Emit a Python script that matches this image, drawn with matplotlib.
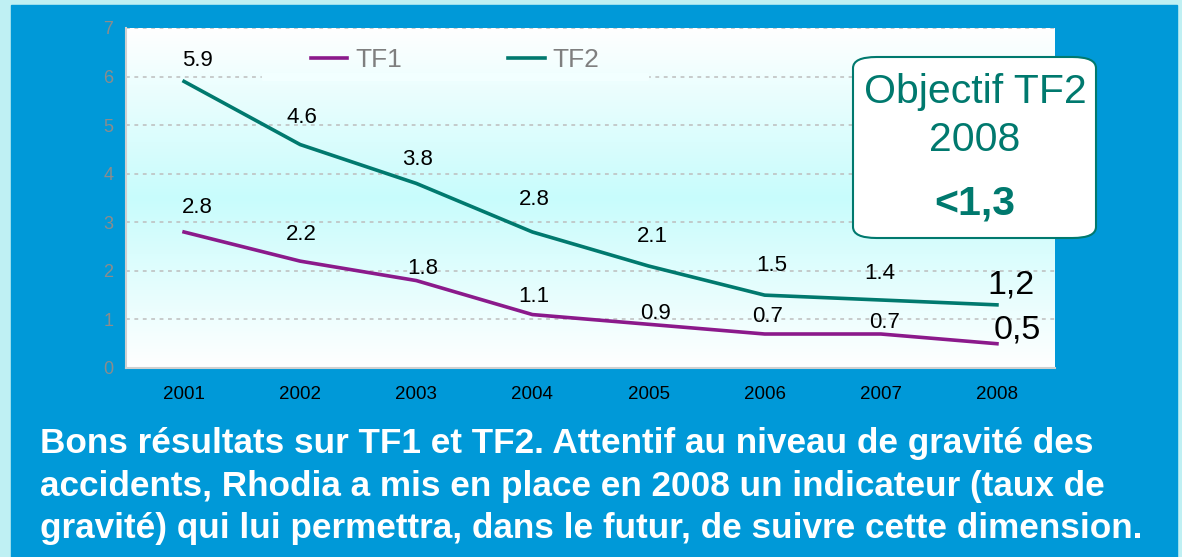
"""Rhodia TF1 / TF2 accident frequency rates, 2001-2008."""

import numpy as np
import matplotlib.pyplot as plt
from matplotlib.colors import LinearSegmentedColormap
from matplotlib.patches import FancyBboxPatch

plt.rcParams['font.family'] = ['Liberation Sans', 'DejaVu Sans']

years = ['2001', '2002', '2003', '2004', '2005', '2006', '2007', '2008']
tf1 = [2.8, 2.2, 1.8, 1.1, 0.9, 0.7, 0.7, 0.5]
tf2 = [5.9, 4.6, 3.8, 2.8, 2.1, 1.5, 1.4, 1.3]
tf1_labels = ['2.8', '2.2', '1.8', '1.1', '0.9', '0.7', '0.7', '0,5']
tf2_labels = ['5.9', '4.6', '3.8', '2.8', '2.1', '1.5', '1.4', '1,2']
goal_lines = ['Objectif TF2', '2008', '<1,3']
comment = ['Bons résultats sur TF1 et TF2. Attentif au niveau de gravité des',
           'accidents, Rhodia a mis en place en 2008 un indicateur (taux de',
           'gravité) qui lui permettra, dans le futur, de suivre cette dimension.']

# label offsets in pixels (dx, dy up), last one is the big manual label
tf1_off = [(13, 25), (1, 27), (6, 12), (1, 18), (7, 11), (3, 18), (4, 12), (-3, 14)]
tf2_off = [(13, 21), (2, 27), (1, 24), (2, 33), (4, 29), (7, 30), (-1, 27), (-10, 20)]

BLUE = '#0099d8'
TEAL = '#00796e'
PURPLE = '#8b1a8b'
px = 0.72  # pixels -> points at dpi 100

fig = plt.figure(figsize=(11.82, 5.57), dpi=100)
fig.patch.set_facecolor('#bff0f3')
fig.add_artist(plt.Rectangle((11 / 1182, 0), 1166 / 1182, 552 / 557,
                             transform=fig.transFigure, color=BLUE, zorder=0))

ax = fig.add_axes([126 / 1182, 1 - 368 / 557, 929 / 1182, 340 / 557])
ax.set_facecolor('white')

# vertical gradient white -> cyan -> white
cmap = LinearSegmentedColormap.from_list(
    'bg', [(0, 'white'), (0.5, '#c8fcfc'), (1, 'white')])
grad = np.linspace(0, 1, 256).reshape(-1, 1)
ax.imshow(grad, cmap=cmap, aspect='auto', extent=(0, 1, 0, 1),
          transform=ax.transAxes, origin='lower', zorder=0)

x = np.arange(len(years))
ax.plot(x, tf1, color=PURPLE, lw=2.6, label='TF1', zorder=3)
ax.plot(x, tf2, color=TEAL, lw=2.6, label='TF2', zorder=3)

for i, (v, s) in enumerate(zip(tf1, tf1_labels)):
    big = i == len(tf1) - 1
    dx, dy = tf1_off[i]
    ax.annotate(s, (x[i], v), xytext=(dx * px, dy * px), textcoords='offset points',
                ha='left' if big else 'center', va='center',
                fontsize=24.5 if big else 16, color='black', zorder=4)
for i, (v, s) in enumerate(zip(tf2, tf2_labels)):
    big = i == len(tf2) - 1
    dx, dy = tf2_off[i]
    ax.annotate(s, (x[i], v), xytext=(dx * px, dy * px), textcoords='offset points',
                ha='left' if big else 'center', va='center',
                fontsize=24.5 if big else 16, color='black', zorder=4)

ax.set_xlim(-0.5, len(years) - 0.5)
ax.set_ylim(0, 7)
ax.set_yticks(range(8))
ax.set_xticks(x)
ax.set_xticklabels(years)
ax.tick_params(axis='y', length=0, pad=9, labelsize=13, labelcolor='#8c8c8c')
ax.tick_params(axis='x', length=0, pad=13, labelsize=13.5, labelcolor='black')
ax.set_axisbelow(True)
ax.yaxis.grid(True, color='#bdbdbd', ls=(0, (2.5, 3)), lw=1.1)
for side in ['top', 'right']:
    ax.spines[side].set_visible(False)
for side in ['left', 'bottom']:
    ax.spines[side].set_color('#d0d0d0')
    ax.spines[side].set_linewidth(1.5)

# patch behind legend hides the gridline
ax.axhspan(5.92, 6.08, xmin=136 / 929, xmax=522 / 929, color='#f2ffff', zorder=1)
ax.legend(loc='center', bbox_to_anchor=(329 / 929, 308 / 340), ncol=2, frameon=False,
          fontsize=19, labelcolor='#7f7f7f', handlelength=1.4, handletextpad=0.3,
          columnspacing=4.0)

# objective box
fig.add_artist(FancyBboxPatch((853 / 1182, 1 - 238 / 557), 243 / 1182, 181 / 557,
                              boxstyle='round,pad=0,rounding_size=0.02',
                              transform=fig.transFigure, facecolor='white',
                              edgecolor=TEAL, lw=1.5, zorder=5))
fig.text(975 / 1182, 1 - 92 / 557, goal_lines[0], ha='center', va='center',
         fontsize=29.5, color=TEAL, zorder=6)
fig.text(975 / 1182, 1 - 140 / 557, goal_lines[1], ha='center', va='center',
         fontsize=29.5, color=TEAL, zorder=6)
fig.text(975 / 1182, 1 - 204 / 557, goal_lines[2], ha='center', va='center',
         fontsize=29.5, color=TEAL, fontweight='bold', zorder=6)

for line, base in zip(comment, [453, 496, 538]):
    fig.text(40 / 1182, 1 - base / 557, line, ha='left', va='baseline',
             fontsize=25.3, color='white', fontweight='bold')

fig.savefig('out.png', dpi=100, facecolor=fig.get_facecolor())
